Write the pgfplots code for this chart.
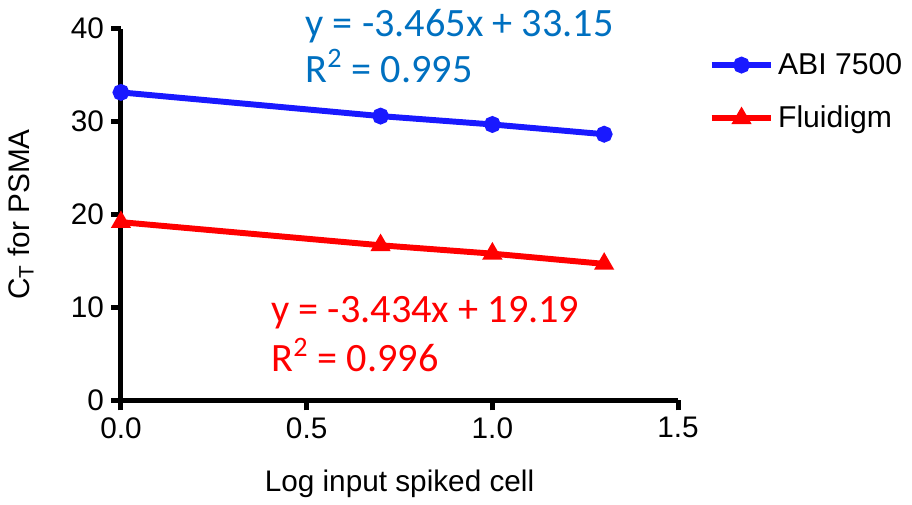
\documentclass[border=0pt]{standalone}
\usepackage{fontspec}
\setmainfont{Liberation Sans}
\newfontfamily\calibri{Carlito}
\usepackage{pgfplots}
\pgfplotsset{compat=1.18}
\definecolor{eqblue}{RGB}{0,112,192}
\definecolor{serblue}{RGB}{25,25,255}
\definecolor{serred}{RGB}{255,0,0}
\begin{document}
\begin{tikzpicture}
\begin{axis}[
  scale only axis, width=281pt, height=187.5pt,
  xmin=0, xmax=1.5, ymin=0, ymax=40,
  clip=false,
  axis lines=left,
  axis line style={line width=2.5pt, -},
  xtick={0,0.5,1,1.5}, ytick={0,10,20,30,40},
  xticklabel style={/pgf/number format/.cd, fixed, fixed zerofill, precision=1},
  /pgf/number format/assume math mode=true,
  tick style={line width=2.5pt, black},
  major tick length=5pt, tick align=outside,
  ticklabel style={font=\fontsize{15}{17}\selectfont},
  xlabel={Log input spiked cell},
  ylabel={C\textsubscript{T} for PSMA},
  label style={font=\fontsize{15}{18}\selectfont},
  xlabel style={yshift=-9pt},
  ylabel style={yshift=12pt},
  legend style={draw=none, fill=none, at={(1.044,0.957)}, anchor=north west,
    font=\fontsize{15.2}{18}\selectfont, row sep=10.5pt},
  legend cell align=left,
  legend image code/.code={
    \draw[#1] (0cm,0cm) -- (1.05cm,0cm);
    \draw[#1, mark repeat=2, mark phase=2] plot coordinates {(0cm,0cm) (0.525cm,0cm) (1.05cm,0cm)};
  },
]
\addplot[serblue, line width=3pt, mark=*, mark size=2.7pt, mark options={solid}]
  coordinates {(0,33.15) (0.699,30.6) (1,29.7) (1.301,28.65)};
\addlegendentry{ABI 7500}
\addplot[serred, line width=3pt, mark=triangle*, mark size=2.9pt, mark options={solid}]
  coordinates {(0,19.19) (0.699,16.7) (1,15.8) (1.301,14.7)};
\addlegendentry{Fluidigm}
\node[anchor=base west, text=eqblue, font=\calibri\fontsize{20.3}{24}\selectfont, inner sep=0pt]
  at (axis cs:0.496,39.15) {y = -3.465x + 33.15};
\node[anchor=base west, text=eqblue, font=\calibri\fontsize{20.3}{24}\selectfont, inner sep=0pt]
  at (axis cs:0.496,34.2) {R\textsuperscript{2} = 0.995};
\node[anchor=base west, text=serred, font=\calibri\fontsize{20.3}{24}\selectfont, inner sep=0pt]
  at (axis cs:0.404,8.4) {y = -3.434x + 19.19};
\node[anchor=base west, text=serred, font=\calibri\fontsize{20.3}{24}\selectfont, inner sep=0pt]
  at (axis cs:0.404,3.1) {R\textsuperscript{2} = 0.996};
\end{axis}
\path ([shift={(-61pt,14.5pt)}]current axis.north west);
\path ([shift={(114pt,-49pt)}]current axis.south east);
\end{tikzpicture}
\end{document}
